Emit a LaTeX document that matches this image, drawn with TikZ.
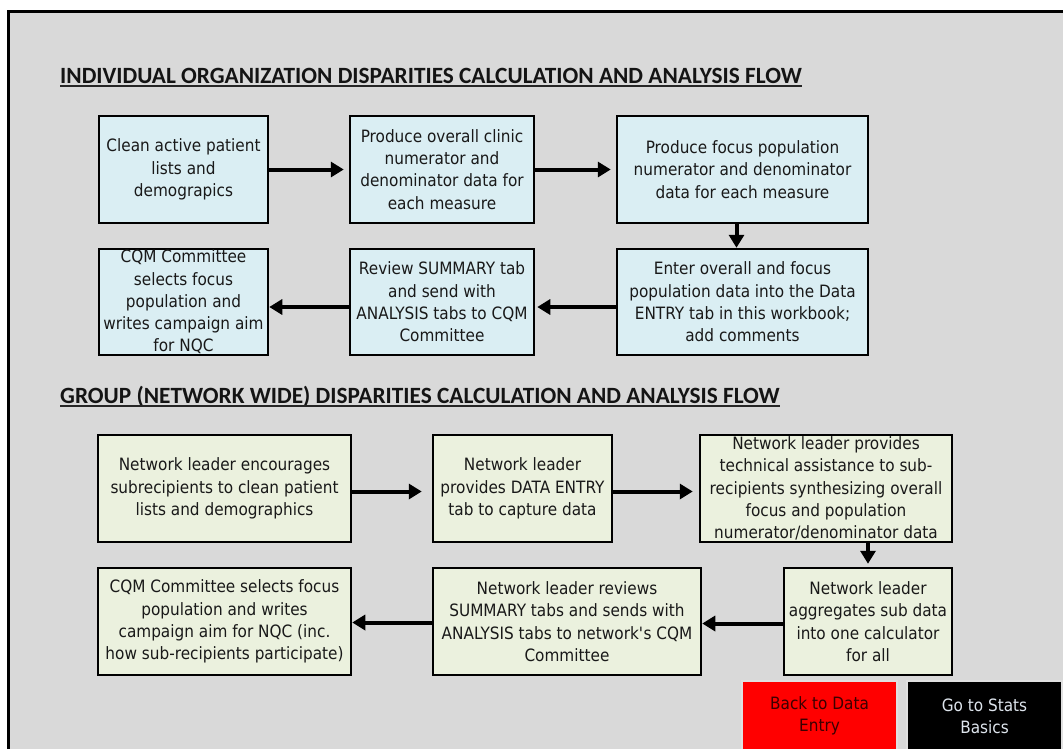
\documentclass[tikz,border=0pt]{standalone}
\usepackage{fontspec}
\setmainfont{DejaVu Sans}[FakeStretch=0.9]
\newfontfamily\titlefont{Carlito}
\usepackage{tikz}
\usetikzlibrary{arrows.meta}

\definecolor{sheetgrey}{HTML}{D9D9D9}
\definecolor{bluefill}{HTML}{DAEEF3}
\definecolor{greenfill}{HTML}{EBF1DE}
\definecolor{btnred}{HTML}{FF0000}
\definecolor{btntext}{HTML}{3C0000}
\definecolor{btnlight}{HTML}{DDE4EC}

\tikzset{
  boxtext/.style={font=\fontsize{17}{22.3}\selectfont, text=black!90, align=center, inner sep=0pt},
  indbox/.style={boxtext, draw=black, line width=2.5pt, fill=bluefill},
  grpbox/.style={boxtext, draw=black, line width=2.5pt, fill=greenfill},
  flowarrow/.style={line width=4pt, -{Triangle[length=13pt,width=15pt]}},
  heading/.style={font=\titlefont\bfseries\fontsize{23.3}{26}\selectfont, text=black!92, anchor=base west, inner sep=0pt},
  button/.style={boxtext, draw=white!88!black, line width=1.5pt}
}

\begin{document}
\begin{tikzpicture}[x=1pt,y=-1pt]
\clip (0,0) rectangle (1063,748);
\fill[white] (0,0) rectangle (1063,748);
\fill[sheetgrey] (8.5,11) rectangle (1075,760);
\draw[black, line width=3pt] (1075,11) -- (8.5,11) -- (8.5,760);

\node[heading] (indtitle) at (60,83) {INDIVIDUAL ORGANIZATION DISPARITIES CALCULATION AND ANALYSIS FLOW};
\draw[line width=1.6pt, black!85] ([yshift=-3pt]indtitle.base west) -- ([yshift=-3pt]indtitle.base east);

\node[indbox, minimum width=169pt, minimum height=107pt] (clean) at (183.5,169.5) {Clean active patient\\lists and\\demograpics};
\node[indbox, minimum width=184pt, minimum height=107pt] (clinic) at (442,169.5) {Produce overall clinic\\numerator and\\denominator data for\\each measure};
\node[indbox, minimum width=251pt, minimum height=107pt] (focus) at (742.5,169.5) {Produce focus population\\numerator and denominator\\data for each measure};
\node[indbox, minimum width=251pt, minimum height=106pt] (enter) at (742.5,302) {Enter overall and focus\\population data into the Data\\ENTRY tab in this workbook;\\add comments};
\node[indbox, minimum width=184pt, minimum height=106pt] (review) at (442,302) {Review SUMMARY tab\\and send with\\ANALYSIS tabs to CQM\\Committee};
\node[indbox, minimum width=169pt, minimum height=106pt] (cqm) at (183.5,302) {CQM Committee\\selects focus\\population and\\writes campaign aim\\for NQC};

\draw[flowarrow] (clean.east) -- ([xshift=-5pt]clinic.west);
\draw[flowarrow] (clinic.east) -- ([xshift=-5pt]focus.west);
\draw[flowarrow] ([xshift=-6pt]focus.south) -- ([xshift=-6pt]enter.north);
\draw[flowarrow] ([yshift=-5pt]enter.west) -- ([xshift=2pt,yshift=-5pt]review.east);
\draw[flowarrow] ([yshift=-5pt]review.west) -- ([yshift=-5pt]cqm.east);

\node[heading] (grptitle) at (60,403) {GROUP (NETWORK WIDE) DISPARITIES CALCULATION AND ANALYSIS FLOW};
\draw[line width=1.6pt, black!85] ([yshift=-3pt]grptitle.base west) -- ([yshift=-3pt]grptitle.base east);

\node[grpbox, minimum width=253pt, minimum height=107pt] (encourage) at (224.5,488.5) {Network leader encourages\\subrecipients to clean patient\\lists and demographics};
\node[grpbox, minimum width=179pt, minimum height=107pt] (provide) at (522.5,488.5) {Network leader\\provides DATA ENTRY\\tab to capture data};
\node[grpbox, minimum width=252pt, minimum height=107pt] (assist) at (826,488.5) {Network leader provides\\technical assistance to sub-\\recipients synthesizing overall\\focus and population\\numerator/denominator data};
\node[grpbox, minimum width=168pt, minimum height=107pt] (aggregate) at (868,621.5) {Network leader\\aggregates sub data\\into one calculator\\for all};
\node[grpbox, minimum width=268pt, minimum height=107pt] (reviews) at (567,621.5) {Network leader reviews\\SUMMARY tabs and sends with\\ANALYSIS tabs to network\textquotesingle s CQM\\Committee};
\node[grpbox, minimum width=253pt, minimum height=107pt] (selects) at (224.5,621.5) {CQM Committee selects focus\\population and writes\\campaign aim for NQC (inc.\\how sub-recipients participate)};

\draw[flowarrow] ([yshift=-3pt]encourage.east) -- ([xshift=-10pt,yshift=-3pt]provide.west);
\draw[flowarrow] ([yshift=-3pt]provide.east) -- ([xshift=-6pt,yshift=-3pt]assist.west);
\draw[flowarrow] (aggregate.north |- assist.south) -- ([yshift=3pt]aggregate.north);
\draw[flowarrow] ([yshift=-2pt]aggregate.west) -- ([yshift=-2pt]reviews.east);
\draw[flowarrow] ([yshift=-1pt]reviews.west) -- ([yshift=-1pt]selects.east);

\node[button, fill=btnred, text=btntext, minimum width=155pt, minimum height=70pt] (backentry) at (819.5,716) {Back to Data\\Entry};
\node[button, fill=black, text=btnlight, minimum width=155pt, minimum height=70pt] (statsbasics) at (984.5,716) {Go to Stats\\Basics};
\end{tikzpicture}
\end{document}
